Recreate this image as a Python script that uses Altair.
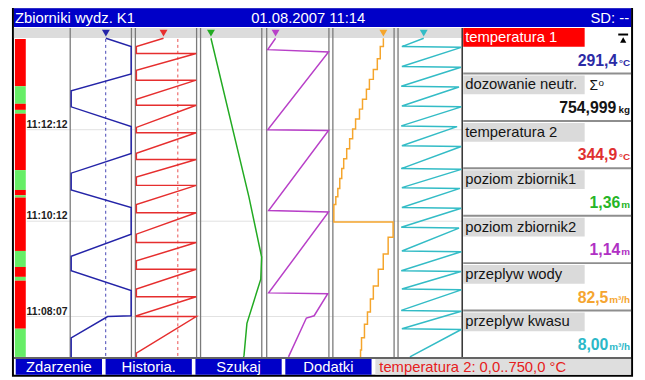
import altair as alt
import pandas as pd

# ---------------- data ----------------
TITLE = "Zbiorniki wydz. K1"
DATE_TIME = "01.08.2007 11:14"
SD_TEXT = "SD: --"
BUTTONS = ["Zdarzenie", "Historia.", "Szukaj", "Dodatki"]
RANGE_INFO = "temperatura 2: 0,0..750,0 °C"

TIME_TICKS = ["11:12:12", "11:10:12", "11:08:07"]
VIEW_START = "11:07:14"
VIEW_END = "11:14:11"

CHANNELS = ["temperatura 1", "dozowanie neutr.", "temperatura 2", "poziom zbiornik1",
            "poziom zbiornik2", "przeplyw wody", "przeplyw kwasu"]
CURRENT = ["291,4", "754,999", "344,9", "1,36", "1,14", "82,5", "8,00"]
UNITS = ["°C", "kg", "°C", "m", "m", "m³/h", "m³/h"]

STATUS_FROM = ["11:14:11", "11:13:09", "11:12:46", "11:12:38", "11:12:33", "11:11:19", "11:10:53",
               "11:10:46", "11:10:43", "11:09:33", "11:09:12", "11:08:59", "11:08:54", "11:07:51"]
STATUS_TO = ["11:13:09", "11:12:46", "11:12:38", "11:12:33", "11:11:19", "11:10:53", "11:10:46",
             "11:10:43", "11:09:33", "11:09:12", "11:08:59", "11:08:54", "11:07:51", "11:07:14"]
STATUS = ["alarm", "ok", "alarm", "ok", "alarm", "ok", "alarm", "ok", "alarm", "ok", "alarm", "ok", "alarm", "ok"]

# temperatura 1 (0..500 °C)
T1_TIME = ["11:14:12", "11:14:01", "11:13:25", "11:13:03", "11:12:42", "11:12:16", "11:11:41", "11:11:15",
           "11:10:53", "11:10:30", "11:09:55", "11:09:26", "11:09:07", "11:08:41", "11:08:08", "11:08:07",
           "11:07:39", "11:07:14"]
T1_VAL = [291.4, 498, 498, 8, 8, 498, 498, 8, 8, 498, 498, 8, 8, 498, 498, 306, 8, 8]
T1_LIMIT = 290

# temperatura 2 (0..750 °C)
T2_TIME = ["11:14:12", "11:14:01", "11:13:52", "11:13:52", "11:13:30", "11:13:17", "11:13:17", "11:12:52",
           "11:12:44", "11:12:44", "11:12:15", "11:12:08", "11:12:08", "11:11:41", "11:11:33", "11:11:33",
           "11:11:10", "11:10:59", "11:10:59", "11:10:34", "11:10:23", "11:10:23", "11:09:55", "11:09:44",
           "11:09:44", "11:09:20", "11:09:09", "11:09:09", "11:08:43", "11:08:33", "11:08:33", "11:08:08",
           "11:08:07", "11:08:07", "11:07:19", "11:07:14"]
T2_VAL = [344.9, 12, 12, 745, 12, 12, 745, 12, 12, 745, 12, 12, 745, 12, 12, 745, 12, 12, 745, 12, 12, 745,
          12, 12, 745, 12, 12, 745, 12, 12, 745, 12, 12, 745, 12, 12]
T2_LIMIT = 520

# poziom zbiornik1 (0..8 m)
L1_TIME = ["11:14:12", "11:10:44", "11:09:25", "11:08:56", "11:07:58", "11:07:16", "11:07:14"]
L1_VAL = [1.36, 6.32, 7.98, 7.87, 6.06, 5.68, 5.62]

# poziom zbiornik2 (0..8 m)
L2_TIME = ["11:14:12", "11:13:57", "11:13:54", "11:12:12", "11:12:11", "11:10:26", "11:10:24", "11:08:38",
           "11:08:37", "11:08:08", "11:08:05", "11:07:14"]
L2_VAL = [1.14, 0.13, 7.95, 0.13, 7.95, 0.25, 7.95, 0.25, 7.85, 6.1, 5.1, 2.8]

# przeplyw wody (0..100 m3/h), stepped
QW_TIME = ["11:14:12", "11:14:01", "11:13:45", "11:13:31", "11:13:18", "11:13:05", "11:12:52", "11:12:39",
           "11:12:26", "11:12:13", "11:12:00", "11:11:47", "11:11:34", "11:11:21", "11:11:08", "11:10:55",
           "11:10:44", "11:10:34", "11:10:11", "11:09:51", "11:09:29", "11:09:09", "11:08:47", "11:08:30",
           "11:08:13", "11:07:57", "11:07:39", "11:07:23", "11:07:14"]
QW_VAL = [82.5, 77.4, 72.6, 66.1, 59.7, 54.8, 48.4, 43.5, 37.1, 32.3, 27.4, 22.6, 17.7, 14.5, 11.3, 8.1,
          4.8, 1.6, 98.4, 90.3, 82.3, 74.2, 66.1, 61.3, 56.5, 51.6, 46.8, 45.2, 45.2]

# przeplyw kwasu (0..20 m3/h)
QK_TIME = ["11:14:12",
           "11:14:01", "11:14:00", "11:13:35", "11:13:34", "11:13:09", "11:13:08", "11:12:43", "11:12:42",
           "11:12:17", "11:12:16", "11:11:51", "11:11:50", "11:11:21", "11:11:20", "11:10:56", "11:10:55",
           "11:10:30", "11:10:29", "11:10:04", "11:10:03", "11:09:33", "11:09:32", "11:09:07", "11:09:06",
           "11:08:43", "11:08:42", "11:08:15", "11:08:14", "11:07:51", "11:07:50",
           "11:07:14"]
QK_VAL = [8.0,
          1.2, 19.7, 1.2, 19.6, 1.0, 19.0, 1.2, 19.7, 1.0, 18.4, 1.2, 19.7, 1.0, 19.7, 1.2, 19.3,
          1.2, 19.7, 1.0, 19.0, 1.2, 19.7, 1.0, 19.6, 1.2, 19.7, 1.0, 19.7, 1.2, 19.7,
          3.7]

CHANNEL_RANGE = {"temperatura 1": [0, 500], "temperatura 2": [0, 750], "poziom zbiornik1": [0, 8],
                 "poziom zbiornik2": [0, 8], "przeplyw wody": [0, 100], "przeplyw kwasu": [0, 20]}

# ---------------- styles / layout ----------------
FONT = "Liberation Sans"
BLUE_BAR = "#0000c8"
GRAY = "#dadada"
COLUMN_PX = {"temperatura 1": [71, 133], "temperatura 2": [137, 199], "poziom zbiornik1": [203, 265],
             "poziom zbiornik2": [270, 333], "przeplyw wody": [337, 399], "przeplyw kwasu": [403, 468]}
TRACE_COLOR = {"temperatura 1": "#2424a8", "temperatura 2": "#e62e2e", "poziom zbiornik1": "#22aa22",
               "poziom zbiornik2": "#b840c8", "przeplyw wody": "#f5a52c", "przeplyw kwasu": "#33bcc6"}
VALUE_COLOR = ["#2b2ba6", "#141414", "#e03030", "#26b526", "#b030c4", "#f5a530", "#2cb8c8"]
SEPARATORS = [71, 133, 137, 199, 203, 265, 270, 333, 337, 399, 403]
VALUE_RIGHT = {"°C": 625, "kg": 624, "m": 628, "m³/h": 616}


def sec(s):
    h, m, x = (int(p) for p in s.split(":"))
    return h * 3600 + m * 60 + x


def num(s):
    return float(s.replace(",", "."))


Y_SCALE = alt.Scale(domain=[sec(VIEW_START), sec(VIEW_END)], range=[359, 37])
ONE = pd.DataFrame({"k": [0]})


def box(x1, x2, y1, y2, color):
    return alt.Chart(ONE).mark_rect(color=color).encode(
        x=alt.value(x1), x2=alt.value(x2), y=alt.value(y1), y2=alt.value(y2))


def vline(x, y1, y2, color, w):
    return alt.Chart(ONE).mark_rule(color=color, strokeWidth=w).encode(
        x=alt.value(x), y=alt.value(y1), y2=alt.value(y2))


def hline(y, x1, x2, color, w):
    return alt.Chart(ONE).mark_rule(color=color, strokeWidth=w).encode(
        y=alt.value(y), x=alt.value(x1), x2=alt.value(x2))


def label(text, x, y, **kw):
    return alt.Chart(ONE).mark_text(text=text, font=FONT, baseline="alphabetic", **kw).encode(
        x=alt.value(x), y=alt.value(y))


layers = []
# frame and backgrounds
layers += [box(12, 641, 4, 379, "#000000"), box(14, 639, 6, 377, "#ffffff"),
           box(14, 639, 6, 25, BLUE_BAR), box(14, 468, 26, 36, "#dcdcdc")]
layers += [label(TITLE, 15, 21, fontSize=15, color="white", align="left"),
           label(DATE_TIME, 312, 21, fontSize=15, color="white", align="center"),
           label(SD_TEXT, 637, 21, fontSize=15, color="white", align="right")]

# time grid and labels
ticks = pd.DataFrame({"lab": TIME_TICKS, "t": [sec(s) for s in TIME_TICKS]})
layers.append(alt.Chart(ticks).mark_rule(color="#e2e2e2", strokeWidth=1).encode(
    y=alt.Y("t:Q", scale=Y_SCALE, axis=None), x=alt.value(27), x2=alt.value(468)))
layers.append(alt.Chart(ticks).mark_text(font=FONT, fontSize=10.5, fontWeight="bold", align="center",
                                         baseline="alphabetic", dy=-2, color="#202020").encode(
    y=alt.Y("t:Q", scale=Y_SCALE, axis=None), x=alt.value(47.5), text="lab:N"))

# status bar
st = pd.DataFrame({"a": [sec(s) for s in STATUS_FROM], "b": [sec(s) for s in STATUS_TO], "s": STATUS})
layers.append(alt.Chart(st).mark_rect().encode(
    y=alt.Y("a:Q", scale=Y_SCALE, axis=None), y2="b:Q", x=alt.value(15), x2=alt.value(26),
    color=alt.Color("s:N", scale=alt.Scale(domain=["alarm", "ok"], range=["#ff0000", "#66ee66"]), legend=None)))

# column separators
for sx in SEPARATORS:
    layers.append(vline(sx, 26, 359, "#7a7a7a", 1.3))
layers.append(vline(468, 26, 359, "#3a3a3a", 1.6))

# traces
TRACES = [("temperatura 1", T1_TIME, T1_VAL, "linear", T1_LIMIT),
          ("temperatura 2", T2_TIME, T2_VAL, "linear", T2_LIMIT),
          ("poziom zbiornik1", L1_TIME, L1_VAL, "linear", None),
          ("poziom zbiornik2", L2_TIME, L2_VAL, "linear", None),
          ("przeplyw wody", QW_TIME, QW_VAL, "step-before", None),
          ("przeplyw kwasu", QK_TIME, QK_VAL, "linear", None)]

for name, times, vals, interp, limit in TRACES:
    col = TRACE_COLOR[name]
    xs = alt.Scale(domain=CHANNEL_RANGE[name], range=COLUMN_PX[name])
    df = pd.DataFrame({"t": [sec(s) for s in times], "v": vals, "i": list(range(len(vals)))})
    sub = []
    if limit is not None:
        sub.append(alt.Chart(pd.DataFrame({"v": [limit]})).mark_rule(
            color=col, strokeWidth=1, strokeDash=[3, 3], opacity=0.85).encode(
            x=alt.X("v:Q", scale=xs, axis=None), y=alt.value(37), y2=alt.value(359)))
    sub.append(alt.Chart(df).mark_line(color=col, strokeWidth=1.5, interpolate=interp).encode(
        x=alt.X("v:Q", scale=xs, axis=None), y=alt.Y("t:Q", scale=Y_SCALE, axis=None), order="i:Q"))
    cur = num(CURRENT[CHANNELS.index(name)])
    sub.append(alt.Chart(pd.DataFrame({"v": [cur]})).mark_point(
        shape="triangle-down", filled=True, size=64, color=col, opacity=1).encode(
        x=alt.X("v:Q", scale=xs, axis=None), y=alt.value(31)))
    layers.append(alt.layer(*sub))

# right panel
panel = pd.DataFrame({"i": list(range(len(CHANNELS))), "label": CHANNELS, "val": CURRENT, "unit": UNITS})
ROW = alt.Scale(domain=[0, 7], range=[24, 360])
color_ch = alt.Color("label:N", scale=alt.Scale(domain=CHANNELS, range=VALUE_COLOR), legend=None)
panel_layers = [
    alt.Chart(panel).mark_rect(yOffset=2, y2Offset=21).encode(
        y=alt.Y("i:Q", scale=ROW, axis=None), y2=alt.Y2("i"), x=alt.value(469), x2=alt.value(592),
        color=alt.condition(alt.datum.i == 0, alt.value("#ff0000"), alt.value(GRAY))),
    alt.Chart(panel).transform_filter(alt.datum.i > 0).mark_rule(strokeWidth=2, color="#8e8e8e").encode(
        y=alt.Y("i:Q", scale=ROW, axis=None), x=alt.value(469), x2=alt.value(639)),
    alt.Chart(panel).mark_text(font=FONT, fontSize=15, align="left", baseline="alphabetic", dy=16).encode(
        y=alt.Y("i:Q", scale=ROW, axis=None), x=alt.value(471), text="label:N",
        color=alt.condition(alt.datum.i == 0, alt.value("white"), alt.value("#141414"))),
    alt.Chart(panel).mark_text(font=FONT, fontSize=10, fontWeight="bold", align="right",
                               baseline="alphabetic", dy=40).encode(
        y=alt.Y("i:Q", scale=ROW, axis=None), x=alt.value(638), text="unit:N", color=color_ch),
]
for unit, xr in VALUE_RIGHT.items():
    panel_layers.append(
        alt.Chart(panel).transform_filter(alt.datum.unit == unit).mark_text(
            font=FONT, fontSize=16, fontWeight="bold", align="right", baseline="alphabetic", dy=40).encode(
            y=alt.Y("i:Q", scale=ROW, axis=None), x=alt.value(xr), text="val:N", color=color_ch))
layers.append(alt.layer(*panel_layers))

# panel icons
layers.append(alt.Chart(ONE).mark_point(shape="triangle-up", filled=True, size=40, color="black",
                                        opacity=1).encode(x=alt.value(631), y=alt.value(38)))
layers.append(hline(32.5, 626, 636, "black", 2))
layers.append(label("Σ", 597, 89, fontSize=14, color="#141414", align="left"))
layers.append(label("o", 606, 85, fontSize=10, color="#141414", align="left"))

# footer
layers.append(hline(360, 14, 639, "#303030", 1.5))
btn = pd.DataFrame({"b": BUTTONS})
bx = alt.Scale(domain=BUTTONS, range=[14, 378], paddingInner=0.04, paddingOuter=0.02)
layers.append(alt.layer(
    alt.Chart(btn).mark_bar(color=BLUE_BAR).encode(
        x=alt.X("b:N", scale=bx, axis=None, sort=BUTTONS), y=alt.value(361), y2=alt.value(377)),
    alt.Chart(btn).mark_text(font=FONT, fontSize=15, color="white", baseline="alphabetic").encode(
        x=alt.X("b:N", scale=bx, axis=None, sort=BUTTONS), y=alt.value(374), text="b:N"),
))
layers.append(box(380, 639, 361, 377, "#dedede"))
layers.append(label(RANGE_INFO, 384, 374, fontSize=15, color="#e62020", align="left"))

chart = alt.layer(*layers).resolve_scale(x="independent", y="independent", color="independent").properties(
    width=645, height=380,
    padding={"left": -8, "top": -8, "right": 0, "bottom": 0},
    autosize=alt.AutoSizeParams(type="none"),
    background="white",
).configure_view(stroke=None)

chart.save("out.html", embed_options={"renderer": "svg", "actions": False})
